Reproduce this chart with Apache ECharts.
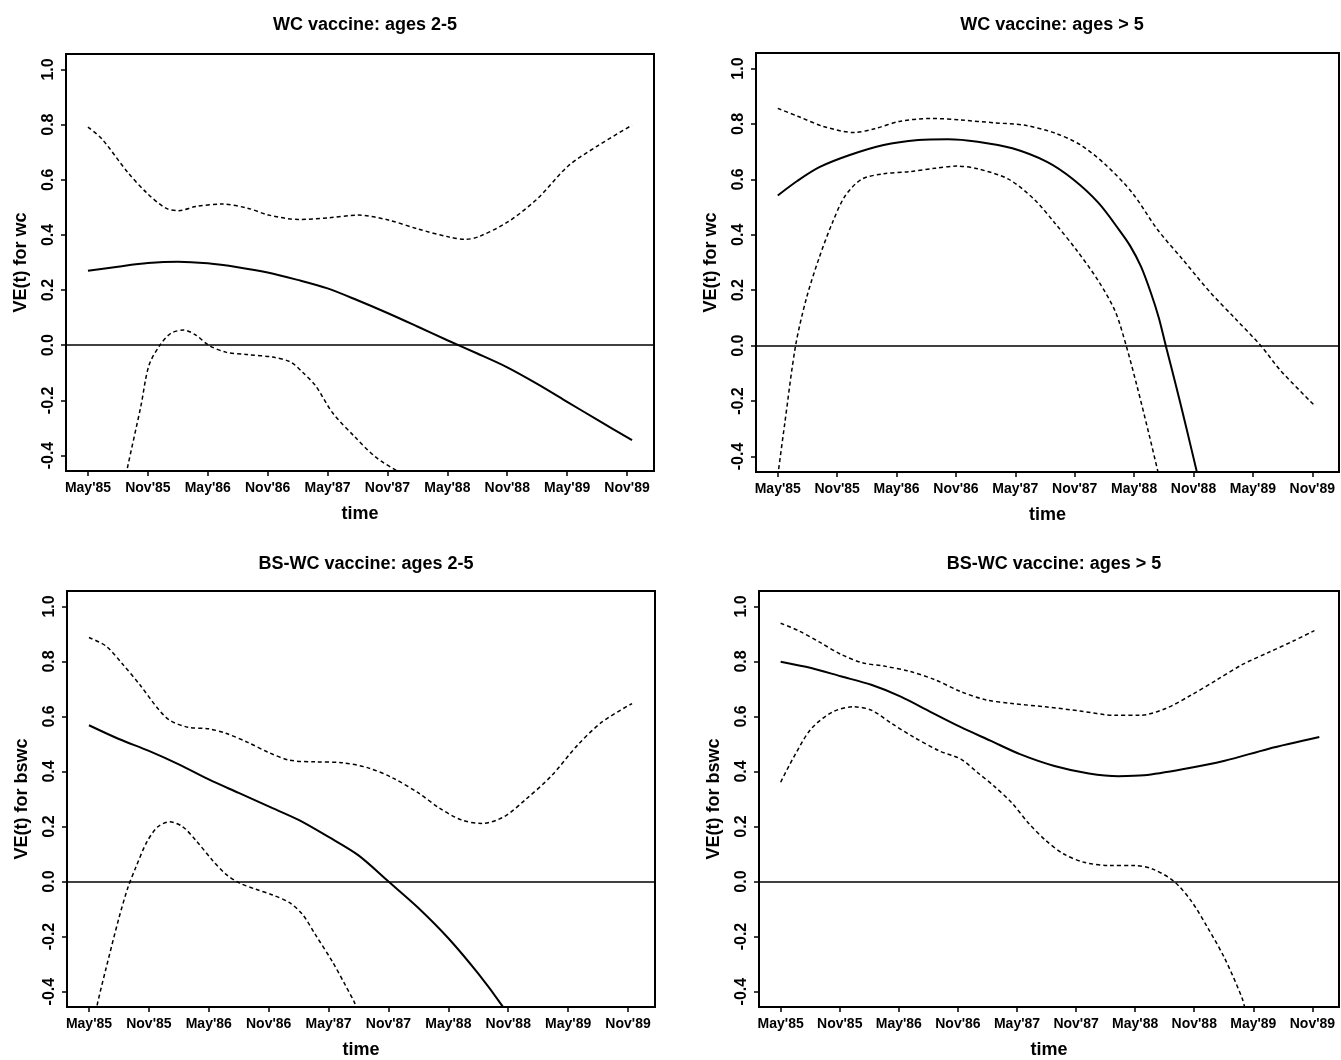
<!DOCTYPE html>
<html>
<head>
<meta charset="utf-8">
<title>VE(t) by vaccine and age</title>
<script src="https://cdn.jsdelivr.net/npm/echarts@6/dist/echarts.min.js"></script>
<style>
  html, body { margin: 0; padding: 0; background: #fff; }
  #chart { width: 1341px; height: 1060px; }
</style>
</head>
<body>
<div id="chart"></div>
<script>
  // x = months since May'85
  const xTickValues = [0, 6, 12, 18, 24, 30, 36, 42, 48, 54]
  const xTickLabels = ["May'85", "Nov'85", "May'86", "Nov'86", "May'87", "Nov'87", "May'88", "Nov'88", "May'89", "Nov'89"]
  const yTickValues = [-0.4, -0.2, 0, 0.2, 0.4, 0.6, 0.8, 1.0]

  const panelTitles = ['WC vaccine: ages 2-5', 'WC vaccine: ages > 5', 'BS-WC vaccine: ages 2-5', 'BS-WC vaccine: ages > 5']
  const yNames = ['VE(t) for wc', 'VE(t) for wc', 'VE(t) for bswc', 'VE(t) for bswc']

  // WC vaccine, ages 2-5
  const wcYoungEst = [[0, 0.27], [3, 0.285], [6, 0.298], [9, 0.303], [12, 0.297], [15, 0.283], [18, 0.264], [21, 0.237], [24, 0.206], [27, 0.163], [30, 0.117], [33, 0.068], [36, 0.018], [39, -0.03], [42, -0.08], [45, -0.14], [48, -0.205], [51, -0.27], [54.5, -0.344]]
  const wcYoungUp = [[0, 0.791], [1.4, 0.748], [4, 0.626], [5.9, 0.552], [7.8, 0.497], [9.1, 0.488], [10.8, 0.503], [13.4, 0.512], [16, 0.497], [18.1, 0.472], [21.1, 0.456], [24.1, 0.462], [27.1, 0.472], [30.1, 0.454], [33.1, 0.421], [36.1, 0.393], [37.8, 0.384], [39.1, 0.393], [42.1, 0.448], [45.1, 0.534], [48.1, 0.65], [51.1, 0.724], [54.5, 0.798]]
  const wcYoungLow = [[3.6, -0.52], [3.9, -0.454], [5.3, -0.221], [6.1, -0.074], [7.2, 0], [8.3, 0.043], [9.6, 0.055], [10.8, 0.037], [12.1, 0], [13.8, -0.025], [16, -0.034], [18.5, -0.043], [20.3, -0.061], [21.5, -0.098], [22.8, -0.147], [24.5, -0.245], [26.7, -0.331], [28.8, -0.405], [31, -0.456], [32, -0.47]]

  // WC vaccine, ages > 5
  const wcOldEst = [[0, 0.542], [2, 0.595], [4.2, 0.644], [7.2, 0.687], [10.7, 0.724], [14.2, 0.742], [17.2, 0.745], [20.2, 0.736], [23.7, 0.712], [27.2, 0.663], [29.8, 0.601], [32.4, 0.515], [34.5, 0.417], [35.6, 0.36], [36.7, 0.285], [37.7, 0.19], [38.5, 0.1], [39.2, 0], [40.2, -0.14], [41.3, -0.3], [42.5, -0.48]]
  const wcOldUp = [[0, 0.856], [2, 0.828], [4.6, 0.791], [7.7, 0.769], [9.8, 0.783], [12.4, 0.81], [15.5, 0.82], [18.5, 0.814], [21.9, 0.804], [25, 0.795], [28, 0.767], [30.6, 0.724], [33.2, 0.65], [35.8, 0.552], [38.4, 0.417], [41, 0.307], [43.6, 0.196], [46.2, 0.098], [48.8, 0], [50.8, -0.09], [54.2, -0.215]]
  const wcOldLow = [[0, -0.47], [0.7, -0.282], [1.8, 0], [2.9, 0.172], [4.2, 0.319], [5.5, 0.442], [6.8, 0.54], [8.5, 0.601], [10.7, 0.62], [13.3, 0.628], [15.9, 0.64], [18.1, 0.648], [20.2, 0.638], [23.3, 0.601], [25.9, 0.528], [28, 0.442], [30.2, 0.344], [32.4, 0.233], [34.1, 0.123], [35.2, 0], [36.3, -0.147], [37.5, -0.319], [38.4, -0.454], [38.7, -0.5]]

  // BS-WC vaccine, ages 2-5
  const bswcYoungEst = [[0, 0.568], [3, 0.518], [6, 0.475], [9, 0.426], [12, 0.371], [15, 0.322], [18, 0.273], [21, 0.224], [24, 0.162], [27, 0.095], [30, 0], [33, -0.096], [36, -0.206], [39, -0.335], [41.4, -0.452], [41.8, -0.48]]
  const bswcYoungUp = [[0, 0.887], [1.7, 0.856], [3.4, 0.789], [5.1, 0.715], [6.9, 0.629], [8.1, 0.586], [9.9, 0.561], [12, 0.555], [13.7, 0.539], [15.9, 0.506], [18, 0.469], [20.1, 0.441], [22.7, 0.435], [25.3, 0.432], [27.9, 0.414], [30.4, 0.377], [33, 0.322], [35.1, 0.267], [37.3, 0.224], [39.4, 0.211], [41.6, 0.236], [43.7, 0.297], [46.3, 0.383], [48.9, 0.494], [51.4, 0.58], [54.4, 0.647]]
  const bswcYoungLow = [[0.6, -0.5], [0.8, -0.452], [1.7, -0.317], [3, -0.133], [3.9, -0.022], [4.7, 0.052], [5.8, 0.144], [6.9, 0.199], [8.1, 0.217], [9.4, 0.199], [10.7, 0.15], [12.4, 0.076], [13.7, 0.027], [15, -0.004], [16.7, -0.028], [18.4, -0.049], [20.1, -0.077], [21.4, -0.12], [22.7, -0.194], [24.4, -0.292], [25.7, -0.378], [26.6, -0.44], [27, -0.48]]

  // BS-WC vaccine, ages > 5
  const bswcOldEst = [[0, 0.799], [3.1, 0.776], [6.1, 0.746], [9.2, 0.715], [12.2, 0.672], [15.2, 0.617], [18.3, 0.561], [21.3, 0.512], [24.3, 0.463], [27.8, 0.42], [31.3, 0.393], [34.3, 0.383], [36.9, 0.386], [40.8, 0.408], [45.1, 0.439], [49.5, 0.482], [54.7, 0.525]]
  const bswcOldUp = [[0, 0.939], [1.8, 0.912], [4, 0.869], [6.1, 0.826], [8.3, 0.795], [10.5, 0.783], [13.1, 0.764], [15.7, 0.733], [18.3, 0.69], [20.9, 0.66], [23.5, 0.647], [26.9, 0.635], [30.4, 0.62], [33.9, 0.604], [36.5, 0.604], [39.1, 0.629], [41.7, 0.678], [44.3, 0.733], [46.9, 0.789], [49.5, 0.832], [52.1, 0.875], [54.2, 0.912]]
  const bswcOldLow = [[0, 0.361], [1.4, 0.457], [3.1, 0.555], [5.3, 0.617], [7.4, 0.635], [9.2, 0.623], [11.3, 0.574], [13.5, 0.525], [16.1, 0.475], [18.3, 0.445], [20, 0.396], [21.7, 0.346], [23.5, 0.285], [25.2, 0.211], [26.9, 0.15], [28.7, 0.101], [30.8, 0.07], [33.4, 0.058], [36, 0.058], [37.8, 0.045], [39.9, 0.002], [41.7, -0.071], [43.4, -0.17], [45.1, -0.28], [46.9, -0.428], [47.3, -0.49]]

  const panels = [
    { est: wcYoungEst, up: wcYoungUp, low: wcYoungLow },
    { est: wcOldEst, up: wcOldUp, low: wcOldLow },
    { est: bswcYoungEst, up: bswcYoungUp, low: bswcYoungLow },
    { est: bswcOldEst, up: bswcOldUp, low: bswcOldLow }
  ]

  const font = "'Liberation Sans', Arial, Helvetica, sans-serif"
  const grids = [
    { left: 66, top: 54, width: 588, height: 417 },
    { left: 756, top: 53, width: 583, height: 419 },
    { left: 67, top: 591, width: 588, height: 417 },
    { left: 759, top: 591, width: 580, height: 416 }
  ]
  const titlePos = [[360, 11], [1047, 11], [361, 550], [1049, 550]]

  const chart = echarts.init(document.getElementById('chart'))

  const series = []
  panels.forEach((p, i) => {
    // 估计值 + 零线
    series.push({
      type: 'line', xAxisIndex: i, yAxisIndex: i,
      data: p.est, smooth: 0.3, symbol: 'none', clip: true,
      lineStyle: { color: '#000', width: 2 },
      markLine: {
        silent: true, symbol: 'none', label: { show: false },
        lineStyle: { color: '#000', type: 'solid', width: 1.5 },
        data: [{ yAxis: 0 }]
      }
    })
    // 置信带
    ;[p.up, p.low].forEach(d => {
      series.push({
        type: 'line', xAxisIndex: i, yAxisIndex: i,
        data: d, smooth: 0.3, symbol: 'none', clip: true,
        lineStyle: { color: '#000', width: 1.5, type: [4, 3] }
      })
    })
  })

  const option = {
    animation: false,
    backgroundColor: '#fff',
    title: panelTitles.map((t, i) => ({
      text: t,
      left: titlePos[i][0], top: titlePos[i][1], textAlign: 'center',
      textStyle: { fontFamily: font, fontSize: 18, fontWeight: 'bold', color: '#000' }
    })),
    grid: grids.map(g => ({ ...g, show: true, borderColor: '#000', borderWidth: 2, backgroundColor: 'transparent' })),
    xAxis: grids.map((g, i) => ({
      type: 'value', gridIndex: i, min: -2.2, max: 56.7,
      name: 'time', nameLocation: 'middle', nameGap: 34,
      nameTextStyle: { fontFamily: font, fontSize: 18, fontWeight: 'bold', color: '#000' },
      axisLine: { show: false, onZero: false },
      splitLine: { show: false },
      axisTick: { show: true, inside: false, length: 5, customValues: xTickValues, lineStyle: { color: '#000', width: 1.5 } },
      axisLabel: {
        customValues: xTickValues, margin: 10,
        fontFamily: font, fontSize: 14, fontWeight: 'bold', color: '#000',
        formatter: v => xTickLabels[Math.round(v / 6)]
      }
    })),
    yAxis: grids.map((g, i) => ({
      type: 'value', gridIndex: i, min: -0.456, max: 1.056,
      name: yNames[i], nameLocation: 'middle', nameGap: 36,
      nameTextStyle: { fontFamily: font, fontSize: 18, fontWeight: 'bold', color: '#000' },
      axisLine: { show: false, onZero: false },
      splitLine: { show: false },
      axisTick: { show: true, inside: false, length: 5, customValues: yTickValues, lineStyle: { color: '#000', width: 1.5 } },
      axisLabel: {
        customValues: yTickValues, rotate: 90, margin: 9,
        fontFamily: font, fontSize: 16, fontWeight: 'bold', color: '#000',
        formatter: v => v.toFixed(1)
      }
    })),
    series: series
  }

  chart.setOption(option)
</script>
</body>
</html>
